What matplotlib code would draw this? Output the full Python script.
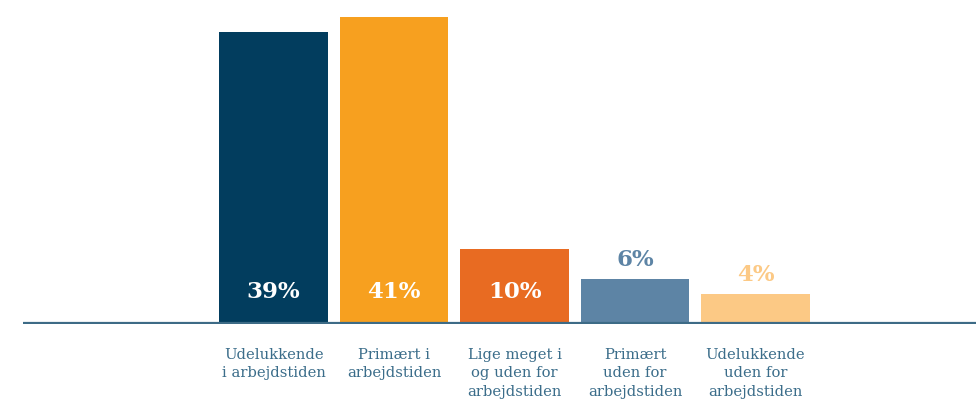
import matplotlib
matplotlib.use('Agg')
import matplotlib.pyplot as plt

categories = ['Udelukkende\ni arbejdstiden',
              'Primært i\narbejdstiden',
              'Lige meget i\nog uden for\narbejdstiden',
              'Primært\nuden for\narbejdstiden',
              'Udelukkende\nuden for\narbejdstiden']
values = [39, 41, 10, 6, 4]
labels = ['39%', '41%', '10%', '6%', '4%']
colors = ['#023d5e', '#f7a01f', '#e86b22', '#5d84a5', '#fcc985']
inside = [True, True, True, False, False]

plt.rcParams['font.family'] = ['DejaVu Serif']

fig = plt.figure(figsize=(9.76, 4.0), dpi=100)
ax = fig.add_axes([23 / 976, 1 - 324 / 400, 1 - 23 / 976, 324 / 400])

x = list(range(len(values)))
ax.bar(x, values, width=0.9, color=colors, zorder=2)
ax.axhline(0.1, color='#3d6b86', linewidth=1.6, zorder=3)

for i, v in enumerate(values):
    if inside[i]:
        ax.text(i, 4.3, labels[i], ha='center', va='center', color='white',
                fontsize=16.5, fontweight='bold', zorder=4)
    else:
        ax.text(i, v + 2.5, labels[i], ha='center', va='center', color=colors[i],
                fontsize=16.5, fontweight='bold', zorder=4)

for i, c in enumerate(categories):
    ax.text(i, -3.2, c, ha='center', va='top', color='#3b6d8a', fontsize=10.6,
            linespacing=1.4, clip_on=False)

ax.set_xlim(-2.08, 5.83)
ax.set_ylim(0, 43.2)
ax.axis('off')

fig.savefig('out.png', dpi=100)
